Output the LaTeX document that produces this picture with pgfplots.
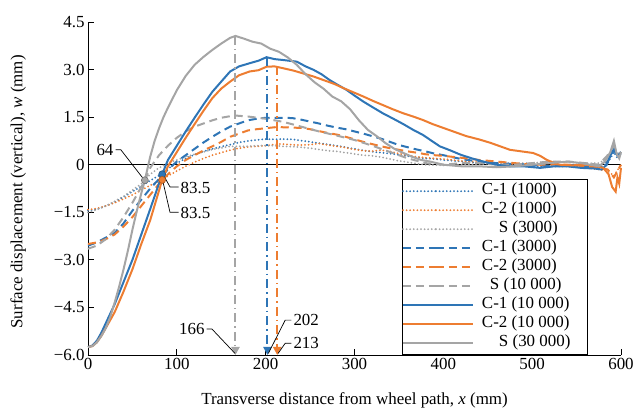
\documentclass[border=0pt]{standalone}
\usepackage{fontspec}
\setmainfont{Liberation Serif}
\usepackage{pgfplots}
\pgfplotsset{compat=1.18}
\usetikzlibrary{arrows.meta}
\definecolor{cblue}{HTML}{2E75B6}
\definecolor{corange}{HTML}{ED7D31}
\definecolor{cgray}{HTML}{A5A5A5}
\newcommand{\LE}[2]{\makebox[113bp][l]{\hspace{#1}#2}}
\newcommand{\fs}{\fontsize{17}{19}\selectfont}
\tikzset{
  dotl/.style={line width=2bp, line cap=round, dash pattern=on 0bp off 3.6bp},
  dashl/.style={line width=2bp, dash pattern=on 8bp off 5bp},
  solidl/.style={line width=2bp},
  ddl/.style={line width=2bp, dash pattern=on 9bp off 4bp on 1.5bp off 4bp},
}
\begin{document}
\begin{tikzpicture}
\begin{axis}[
  scale only axis, width=533bp, height=333bp,
  xmin=0, xmax=600, ymin=-6, ymax=4.5,
  axis x line=bottom, axis y line=left,
  axis line style={-, line width=0.8bp},
  xtick={0,100,200,300,400,500,600},
  ytick={-6,-4.5,-3,-1.5,0,1.5,3,4.5},
  yticklabels={−6.0,−4.5,−3.0,−1.5,0,1.5,3.0,4.5},
  tick align=inside, major tick length=6bp,
  tick style={black, line width=0.8bp},
  /pgf/number format/assume math mode=true,
  ticklabel style={font=\fs},
  xlabel={Transverse distance from wheel path, \textit{x} (mm)},
  ylabel={Surface displacement (vertical), \textit{w} (mm)},
  label style={font=\fs},
  xlabel style={at={(axis description cs:0.5,-0.135)}, anchor=center},
  ylabel style={at={(axis description cs:-0.131,0.49)}, anchor=center},
  clip=false,
  legend cell align=left,
  legend image code/.code={\path (0bp,0bp) -- (33bp,0bp); \draw[#1] (33bp,0bp) -- (70bp,0bp);},
  legend style={at={(axis cs:353,-0.46)}, anchor=north west, draw=black, line width=0.8bp, fill=white,
    font=\fs, inner xsep=0bp, inner ysep=2bp, row sep=0bp,
    nodes={inner xsep=0bp, inner ysep=0bp, text height=13bp, text depth=6bp}},
]
\coordinate (BL) at (rel axis cs:0,0);
\coordinate (TR) at (rel axis cs:1,1);
\addplot[black, line width=0.8bp, forget plot] coordinates {(0,0) (600,0)};

% C-1 (1000)
\addplot[cblue, dotl] coordinates {(0,-1.45)(10,-1.4)(20,-1.3)(30,-1.18)(40,-1.02)(50,-0.85)(60,-0.68)(70,-0.5)(80,-0.34)(90,-0.12)(100,0.05)(110,0.2)(120,0.32)(130,0.42)(140,0.5)(150,0.57)(160,0.63)(170,0.7)(180,0.75)(190,0.78)(200,0.81)(210,0.8)(220,0.81)(230,0.8)(240,0.76)(250,0.72)(260,0.68)(270,0.64)(280,0.6)(290,0.55)(300,0.5)(310,0.45)(320,0.41)(330,0.38)(340,0.35)(350,0.31)(360,0.27)(370,0.23)(380,0.2)(390,0.18)(400,0.15)(420,0.1)(440,0.05)(460,0.02)(480,0.0)(500,-0.05)(520,-0.05)(540,-0.05)(560,-0.05)(575,-0.1)(585,0.05)(592,0.4)(596,0.2)(600,0.3)};
\addlegendentry{\LE{8bp}{C-1 (1000)}}
% C-2 (1000)
\addplot[corange, dotl] coordinates {(0,-1.42)(10,-1.38)(20,-1.3)(30,-1.2)(40,-1.08)(50,-0.95)(60,-0.8)(70,-0.65)(80,-0.52)(83.5,-0.48)(90,-0.35)(100,-0.2)(110,-0.05)(120,0.08)(130,0.2)(140,0.3)(150,0.38)(160,0.46)(170,0.52)(180,0.56)(190,0.58)(200,0.6)(213,0.65)(220,0.65)(230,0.63)(240,0.62)(250,0.63)(260,0.67)(270,0.62)(280,0.58)(290,0.54)(300,0.48)(310,0.44)(320,0.43)(330,0.46)(340,0.42)(350,0.35)(360,0.3)(370,0.25)(380,0.22)(390,0.2)(400,0.18)(420,0.12)(440,0.08)(460,0.05)(480,0.02)(500,0.0)(520,-0.05)(540,-0.05)(560,-0.1)(575,-0.15)(585,-0.2)(592,-0.35)(600,0.0)};
\addlegendentry{\LE{8bp}{C-2 (1000)}}
% S (3000)
\addplot[cgray, dotl] coordinates {(0,-1.5)(10,-1.42)(20,-1.3)(30,-1.15)(40,-1.0)(50,-0.8)(60,-0.6)(64,-0.49)(70,-0.3)(80,-0.1)(90,0.05)(100,0.15)(110,0.25)(120,0.33)(130,0.4)(140,0.48)(150,0.53)(160,0.58)(170,0.58)(180,0.58)(190,0.6)(200,0.6)(210,0.6)(220,0.58)(230,0.57)(240,0.55)(250,0.52)(260,0.48)(270,0.44)(280,0.42)(290,0.38)(300,0.34)(310,0.3)(320,0.28)(330,0.24)(340,0.18)(350,0.12)(360,0.08)(370,0.03)(380,0.0)(400,-0.02)(420,0.0)(440,0.02)(460,0.05)(480,0.05)(500,0.05)(520,0.1)(540,0.08)(560,0.05)(575,0.05)(585,0.2)(592,0.6)(596,0.3)(600,0.4)};
\addlegendentry{\LE{25bp}{S (3000)}}
% C-1 (3000)
\addplot[cblue, dashl] coordinates {(0,-2.55)(10,-2.45)(20,-2.3)(30,-2.15)(40,-1.85)(50,-1.45)(60,-1.1)(70,-0.75)(80,-0.45)(90,-0.15)(100,0.1)(110,0.3)(120,0.5)(130,0.7)(140,0.88)(150,1.05)(160,1.2)(170,1.3)(180,1.4)(190,1.45)(200,1.48)(210,1.48)(220,1.48)(230,1.47)(240,1.42)(250,1.36)(260,1.3)(270,1.23)(280,1.17)(290,1.12)(300,1.05)(310,0.98)(320,0.9)(330,0.82)(340,0.72)(350,0.62)(360,0.55)(370,0.48)(380,0.42)(390,0.35)(400,0.3)(420,0.18)(440,0.1)(460,0.05)(480,0.02)(500,0.0)(520,-0.05)(540,0.0)(560,-0.05)(575,-0.1)(585,0.1)(592,0.5)(596,0.3)(600,0.4)};
\addlegendentry{\LE{8bp}{C-1 (3000)}}
% C-2 (3000)
\addplot[corange, dashl] coordinates {(0,-2.5)(10,-2.45)(20,-2.35)(30,-2.2)(40,-1.95)(50,-1.65)(60,-1.3)(70,-0.95)(80,-0.6)(83.5,-0.48)(90,-0.3)(100,-0.05)(110,0.15)(120,0.3)(130,0.45)(140,0.58)(150,0.72)(160,0.88)(170,0.98)(180,1.08)(190,1.12)(200,1.15)(213,1.19)(220,1.18)(230,1.17)(240,1.16)(250,1.12)(260,1.06)(270,1.0)(280,0.95)(290,0.88)(300,0.8)(310,0.72)(320,0.65)(330,0.58)(340,0.52)(350,0.47)(360,0.42)(370,0.38)(380,0.33)(390,0.3)(400,0.28)(420,0.22)(440,0.15)(460,0.1)(480,0.05)(500,0.0)(520,0.0)(540,0.0)(560,-0.05)(575,-0.1)(585,-0.15)(592,-0.4)(600,0.0)};
\addlegendentry{\LE{8bp}{C-2 (3000)}}
% S (10 000)
\addplot[cgray, dashl] coordinates {(0,-2.65)(10,-2.55)(20,-2.35)(30,-2.05)(40,-1.65)(50,-1.2)(60,-0.7)(64,-0.49)(70,-0.1)(80,0.3)(90,0.6)(100,0.85)(110,1.05)(120,1.2)(130,1.3)(140,1.4)(150,1.48)(160,1.53)(166,1.55)(180,1.52)(200,1.45)(220,1.35)(240,1.2)(260,1.05)(280,0.92)(300,0.78)(320,0.6)(340,0.4)(360,0.2)(380,0.05)(400,0.0)(420,0.05)(440,0.05)(460,0.0)(480,0.0)(500,0.05)(520,0.1)(540,0.1)(560,0.05)(575,0.0)(585,0.3)(592,0.6)(596,0.3)(600,0.4)};
\addlegendentry{\LE{16bp}{S (10 000)}}
% C-1 (10 000)
\addplot[cblue, solidl] coordinates {(0,-5.75)(5,-5.7)(10,-5.55)(15,-5.3)(20,-5.0)(30,-4.4)(40,-3.7)(50,-3.0)(60,-2.2)(70,-1.4)(78,-0.75)(83.5,-0.3)(90,0.15)(100,0.6)(110,1.05)(120,1.48)(130,1.9)(140,2.3)(150,2.62)(160,2.94)(170,3.1)(182,3.2)(192,3.28)(201,3.39)(210,3.33)(220,3.3)(235,3.25)(245,3.1)(254,2.99)(263,2.85)(272,2.67)(281,2.52)(291,2.36)(300,2.18)(310,1.99)(320,1.82)(332,1.62)(343,1.46)(355,1.28)(366,1.1)(377,0.94)(387,0.75)(396,0.58)(408,0.45)(419,0.32)(432,0.2)(445,0.1)(460,0.0)(475,-0.05)(490,-0.05)(509,-0.1)(525,-0.05)(539,-0.05)(555,-0.1)(570,-0.12)(578,-0.15)(584,0.0)(588,0.3)(592,0.45)(596,0.3)(600,0.35)};
\addlegendentry{\LE{8bp}{C-1 (10 000)}}
% C-2 (10 000)
\addplot[corange, solidl] coordinates {(0,-5.75)(5,-5.72)(10,-5.6)(15,-5.4)(20,-5.15)(30,-4.65)(40,-4.0)(50,-3.3)(60,-2.5)(70,-1.75)(78,-1.0)(83.5,-0.48)(90,-0.05)(100,0.4)(110,0.85)(120,1.28)(130,1.7)(140,2.1)(150,2.4)(160,2.62)(170,2.82)(182,2.94)(192,2.98)(201,3.09)(210,3.1)(220,3.04)(231,2.97)(242,2.88)(254,2.78)(265,2.67)(277,2.55)(288,2.41)(299,2.28)(310,2.15)(321,2.01)(332,1.88)(343,1.75)(355,1.62)(366,1.52)(377,1.41)(388,1.28)(400,1.16)(413,1.03)(426,0.9)(440,0.8)(453,0.69)(464,0.58)(475,0.47)(488,0.42)(501,0.37)(509,0.28)(516,0.16)(524,0.06)(531,0.0)(545,-0.02)(560,0.0)(572,-0.05)(580,-0.1)(586,-0.3)(590,-0.7)(594,-0.85)(596,-0.4)(598,-0.6)(600,-0.1)};
\addlegendentry{\LE{8bp}{C-2 (10 000)}}
% S (30 000)
\addplot[cgray, solidl] coordinates {(0,-5.75)(5,-5.72)(10,-5.6)(15,-5.4)(20,-5.15)(25,-4.8)(30,-4.35)(35,-3.85)(40,-3.3)(45,-2.7)(50,-2.05)(55,-1.45)(60,-0.9)(64,-0.49)(70,0.25)(75,0.75)(80,1.15)(85,1.5)(90,1.8)(100,2.35)(110,2.8)(120,3.15)(130,3.4)(140,3.62)(150,3.82)(160,4.0)(166,4.06)(175,3.98)(185,3.88)(195,3.82)(205,3.66)(215,3.56)(225,3.38)(235,3.15)(245,2.85)(255,2.6)(265,2.4)(275,2.15)(285,2.0)(295,1.75)(305,1.4)(315,1.1)(325,0.9)(335,0.68)(345,0.5)(355,0.37)(365,0.25)(375,0.15)(385,0.1)(400,0.0)(420,-0.05)(440,-0.05)(460,-0.08)(480,-0.05)(500,0.0)(520,0.05)(540,0.1)(555,0.05)(565,0.0)(575,-0.05)(582,0.1)(588,0.4)(592,0.75)(595,0.35)(598,0.2)(600,0.4)};
\addlegendentry{\LE{25bp}{S (30 000)}}

% vertical peak lines
\addplot[cgray, ddl, -{Triangle[length=8bp,width=8bp]}, forget plot] coordinates {(166,4.06)(166,-6)};
\addplot[cblue, ddl, -{Triangle[length=8bp,width=8bp]}, forget plot] coordinates {(202,3.39)(202,-6)};
\addplot[corange, ddl, -{Triangle[length=8bp,width=8bp]}, forget plot] coordinates {(213,3.1)(213,-6)};

% leaders
\addplot[black, line width=0.7bp, forget plot] coordinates {(31,0.47)(37,0.47)(62,-0.43)};
\addplot[black, line width=0.7bp, forget plot] coordinates {(85,-0.33)(92.3,-0.7)(102,-0.7)};
\addplot[black, line width=0.7bp, forget plot] coordinates {(84.5,-0.55)(92.3,-1.5)(102,-1.5)};
\addplot[black, line width=0.7bp, forget plot] coordinates {(133.5,-5.18)(139.5,-5.18)(165.5,-5.95)};
\addplot[black, line width=0.7bp, forget plot] coordinates {(229,-4.9)(222,-4.9)(203,-5.95)};
\addplot[black, line width=0.7bp, forget plot] coordinates {(229,-5.63)(222,-5.63)(214,-5.95)};

% circles
\addplot[only marks, mark=*, mark size=3.5bp, mark options={fill=cgray, draw=cgray!70!black, line width=0.6bp}, forget plot] coordinates {(64,-0.49)};
\addplot[only marks, mark=*, mark size=3.5bp, mark options={fill=cblue, draw=cblue!70!black, line width=0.6bp}, forget plot] coordinates {(83.5,-0.3)};
\addplot[only marks, mark=*, mark size=3.5bp, mark options={fill=corange, draw=corange!70!black, line width=0.6bp}, forget plot] coordinates {(83.5,-0.48)};

% labels
\node[font=\fs, anchor=east, inner sep=1bp] at (axis cs:30,0.47) {64};
\node[font=\fs, anchor=west, inner sep=1bp] at (axis cs:103,-0.72) {83.5};
\node[font=\fs, anchor=west, inner sep=1bp] at (axis cs:103,-1.52) {83.5};
\node[font=\fs, anchor=east, inner sep=1bp] at (axis cs:132.5,-5.18) {166};
\node[font=\fs, anchor=west, inner sep=1bp] at (axis cs:230,-4.9) {202};
\node[font=\fs, anchor=west, inner sep=1bp] at (axis cs:230,-5.63) {213};
\end{axis}
\pgfresetboundingbox
\path[use as bounding box] ([xshift=-88bp,yshift=-61bp]BL) rectangle ([xshift=14bp,yshift=22bp]TR);
\end{tikzpicture}
\end{document}
